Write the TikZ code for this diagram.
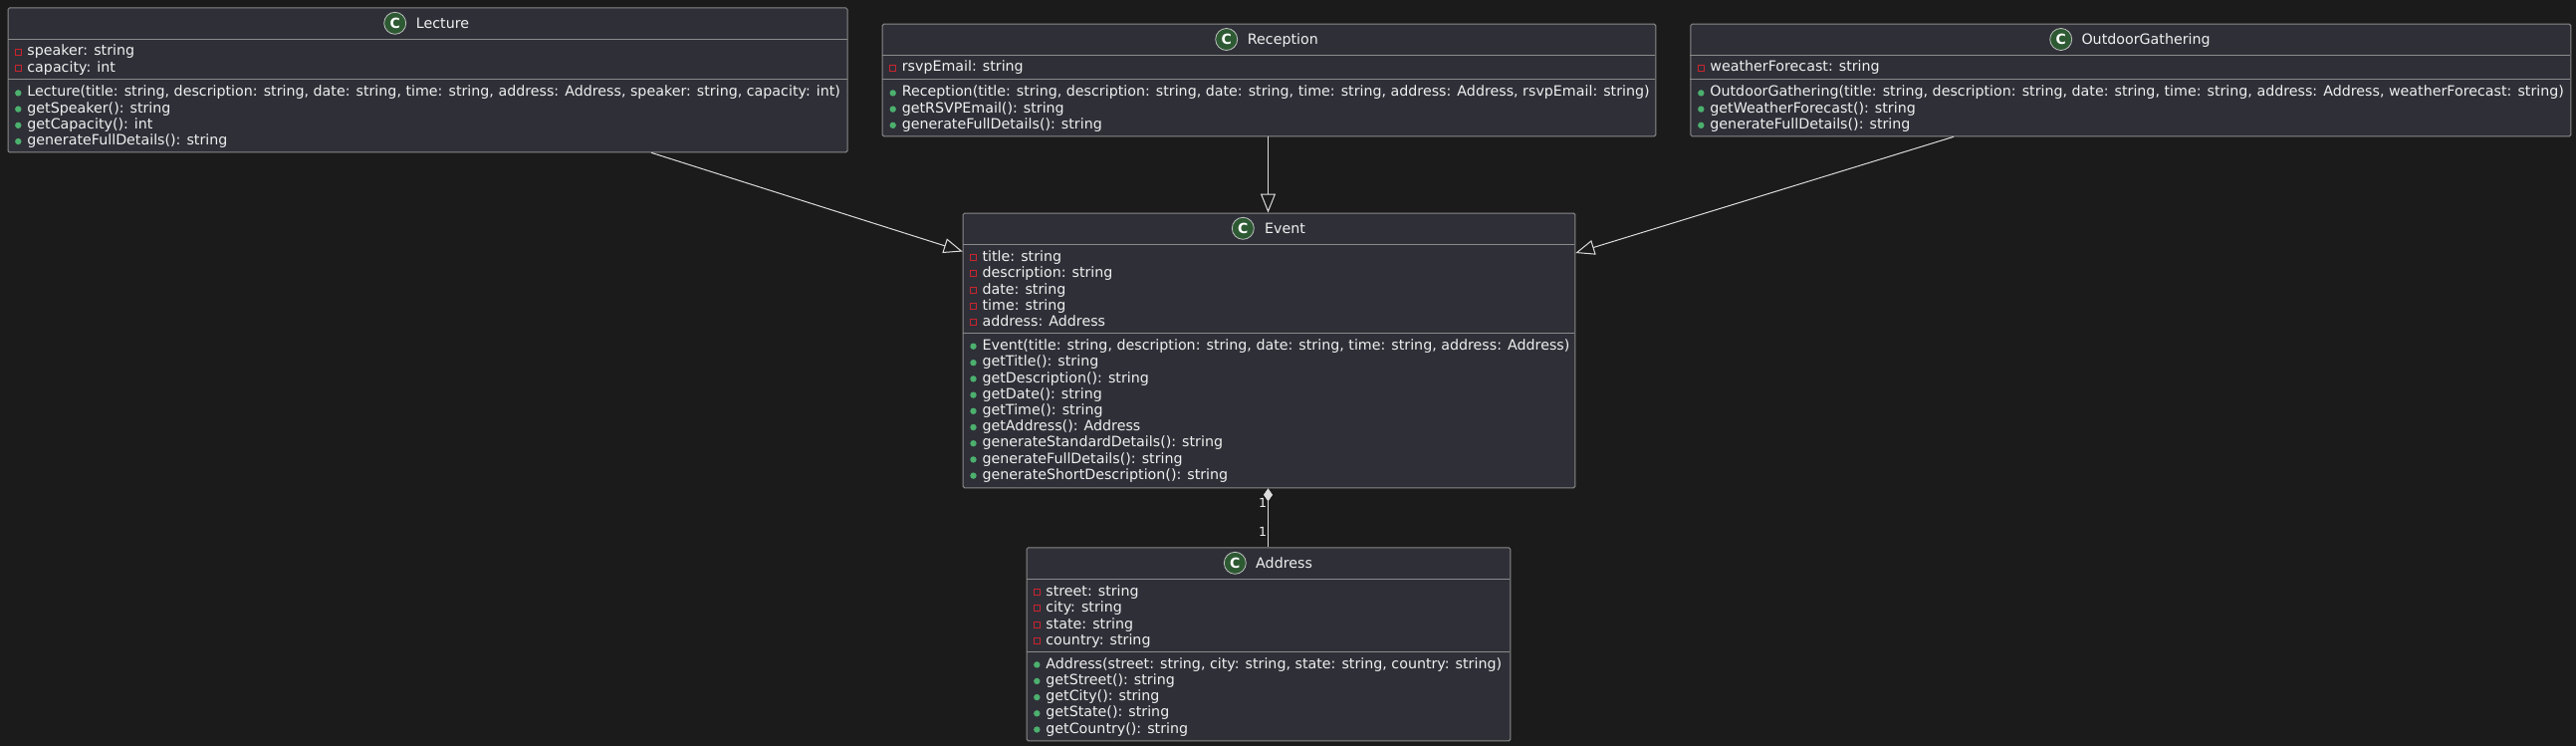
\documentclass[tikz,border=0pt]{standalone}
\usepackage{fontspec}
\setmainfont{DejaVu Sans}
\usetikzlibrary{arrows.meta,calc}
\definecolor{bgc}{HTML}{1B1B1B}
\definecolor{boxc}{HTML}{2F2F38}
\definecolor{linec}{HTML}{8A8A8A}
\definecolor{connc}{HTML}{DDDDDD}
\definecolor{txtc}{HTML}{F0F0F0}
\definecolor{iconc}{HTML}{2D5A33}
\definecolor{privc}{HTML}{C8252E}
\definecolor{pubc}{HTML}{4CB06E}
\tikzset{
  x=1pt,y=-1pt,
  classbox/.style={draw=linec,fill=boxc,line width=1pt,rounded corners=1.5pt,inner sep=0pt,minimum width=0pt},
  member/.style={anchor=base west,inner sep=0pt,text=txtc,font=\fontsize{14.24}{16}\selectfont},
  titletext/.style={member},
  conn/.style={draw=connc,line width=1pt},
  inherit/.style={conn,-{Triangle[open,length=19pt,width=15pt,line width=1pt]}},
  multlabel/.style={font=\fontsize{12.5}{15}\selectfont,text=txtc,anchor=base east,inner sep=0pt},
}
\newcommand{\cls}[7]{% name,x1,y1,x2,y2,div1,div2
  \node[classbox,anchor=north west,minimum width=#4-#2,minimum height=#5-#3] (#1) at (#2,#3) {};
  \draw[linec,line width=1pt] (#2,#6) -- (#4,#6) (#2,#7) -- (#4,#7);
}
\newcommand{\icon}[5]{% name,cx,cy,titlex,title
  \node[circle,draw=txtc!80!black,fill=iconc,line width=0.8pt,minimum size=22pt,inner sep=0pt,text=white,font=\fontsize{14}{16}\bfseries\selectfont] (#1i) at (#2,#3) {C};
  \node[titletext] (#1t) at (#4,#3+5) {#5};
}
\newcommand{\attr}[4]{% name,x,y,text
  \draw[privc,line width=1pt] (#2-2.9,#3-6.6) rectangle (#2+2.9,#3-.8);
  \node[member] (#1) at (#2+8.9,#3) {#4};
}
\newcommand{\meth}[4]{%
  \fill[pubc] (#2,#3-3.6) circle (3.2pt);
  \node[member] (#1) at (#2+8.9,#3) {#4};
}
\begin{document}
\begin{tikzpicture}
\path[use as bounding box,fill=bgc] (0,0) rectangle (2587,749);
% Lecture
\cls{lecture}{7.5}{7.5}{850.5}{152.3}{39.3}{79.3}
\icon{lecture}{396.7}{23.3}{417.7}{Lecture}
\attr{la1}{18.3}{56}{speaker: string}
\attr{la2}{18.3}{72.2}{capacity: int}
\meth{lm1}{18.3}{97}{Lecture(title: string, description: string, date: string, time: string, address: Address, speaker: string, capacity: int)}
\meth{lm2}{18.3}{113.2}{getSpeaker(): string}
\meth{lm3}{18.3}{129.4}{getCapacity(): int}
\meth{lm4}{18.3}{145.6}{generateFullDetails(): string}
% Reception
\cls{reception}{885.7}{23.7}{1662.3}{136.3}{55.3}{79.3}
\icon{reception}{1231.7}{39.5}{1252.7}{Reception}
\attr{ra1}{896.7}{72}{rsvpEmail: string}
\meth{rm1}{896.7}{97}{Reception(title: string, description: string, date: string, time: string, address: Address, rsvpEmail: string)}
\meth{rm2}{896.7}{113.2}{getRSVPEmail(): string}
\meth{rm3}{896.7}{129.4}{generateFullDetails(): string}
% Outdoor
\cls{outdoor}{1697.3}{23.7}{2581.3}{136.3}{55.3}{79.3}
\icon{outdoor}{2069.7}{39.5}{2090.3}{OutdoorGathering}
\attr{oa1}{1708.3}{72}{weatherForecast: string}
\meth{om1}{1708.3}{97}{OutdoorGathering(title: string, description: string, date: string, time: string, address: Address, weatherForecast: string)}
\meth{om2}{1708.3}{113.2}{getWeatherForecast(): string}
\meth{om3}{1708.3}{129.4}{generateFullDetails(): string}
% Event
\cls{event}{966.7}{213.5}{1581.3}{489.3}{245.3}{334.3}
\icon{event}{1248.3}{229.3}{1270}{Event}
\attr{ea1}{977.5}{262}{title: string}
\attr{ea2}{977.5}{278}{description: string}
\attr{ea3}{977.5}{295}{date: string}
\attr{ea4}{977.5}{311}{time: string}
\attr{ea5}{977.5}{327}{address: Address}
\meth{em1}{977.5}{351.3}{Event(title: string, description: string, date: string, time: string, address: Address)}
\meth{em2}{977.5}{367.8}{getTitle(): string}
\meth{em3}{977.5}{384}{getDescription(): string}
\meth{em4}{977.5}{400.2}{getDate(): string}
\meth{em5}{977.5}{416.4}{getTime(): string}
\meth{em6}{977.5}{432.6}{getAddress(): Address}
\meth{em7}{977.5}{448.8}{generateStandardDetails(): string}
\meth{em8}{977.5}{465}{generateFullDetails(): string}
\meth{em9}{977.5}{481.2}{generateShortDescription(): string}
% Address
\cls{address}{1030.7}{549.3}{1516.3}{743.3}{581.3}{654.3}
\icon{address}{1240.3}{565.3}{1261}{Address}
\attr{aa1}{1041.3}{598}{street: string}
\attr{aa2}{1041.3}{614}{city: string}
\attr{aa3}{1041.3}{631}{state: string}
\attr{aa4}{1041.3}{647}{country: string}
\meth{am1}{1041.3}{671}{Address(street: string, city: string, state: string, country: string)}
\meth{am2}{1041.3}{687.5}{getStreet(): string}
\meth{am3}{1041.3}{703.7}{getCity(): string}
\meth{am4}{1041.3}{719.9}{getState(): string}
\meth{am5}{1041.3}{736.1}{getCountry(): string}
% Connectors
\coordinate (lstart) at ($(lecture.south west)+(646.5,0)$);
\coordinate (lend) at ($(event.north west)+(0,39)$);
\coordinate (ostart) at ($(outdoor.south west)+(264.7,0)$);
\coordinate (oend) at ($(event.north east)+(0,40.5)$);
\coordinate (rtop) at (1273.5,136.3);
\draw[inherit] (lstart) -- (lend);
\draw[inherit] (reception.south -| rtop) -- (event.north -| rtop);
\draw[inherit] (ostart) -- (oend);
\draw[conn,{Diamond[length=13pt,width=9pt,fill=connc]}-] (event.south -| rtop) -- (address.north -| rtop);
\node[multlabel] (m1) at (1272.3,509) {1};
\node[multlabel] (m2) at (1272.3,538) {1};
\end{tikzpicture}
\end{document}
